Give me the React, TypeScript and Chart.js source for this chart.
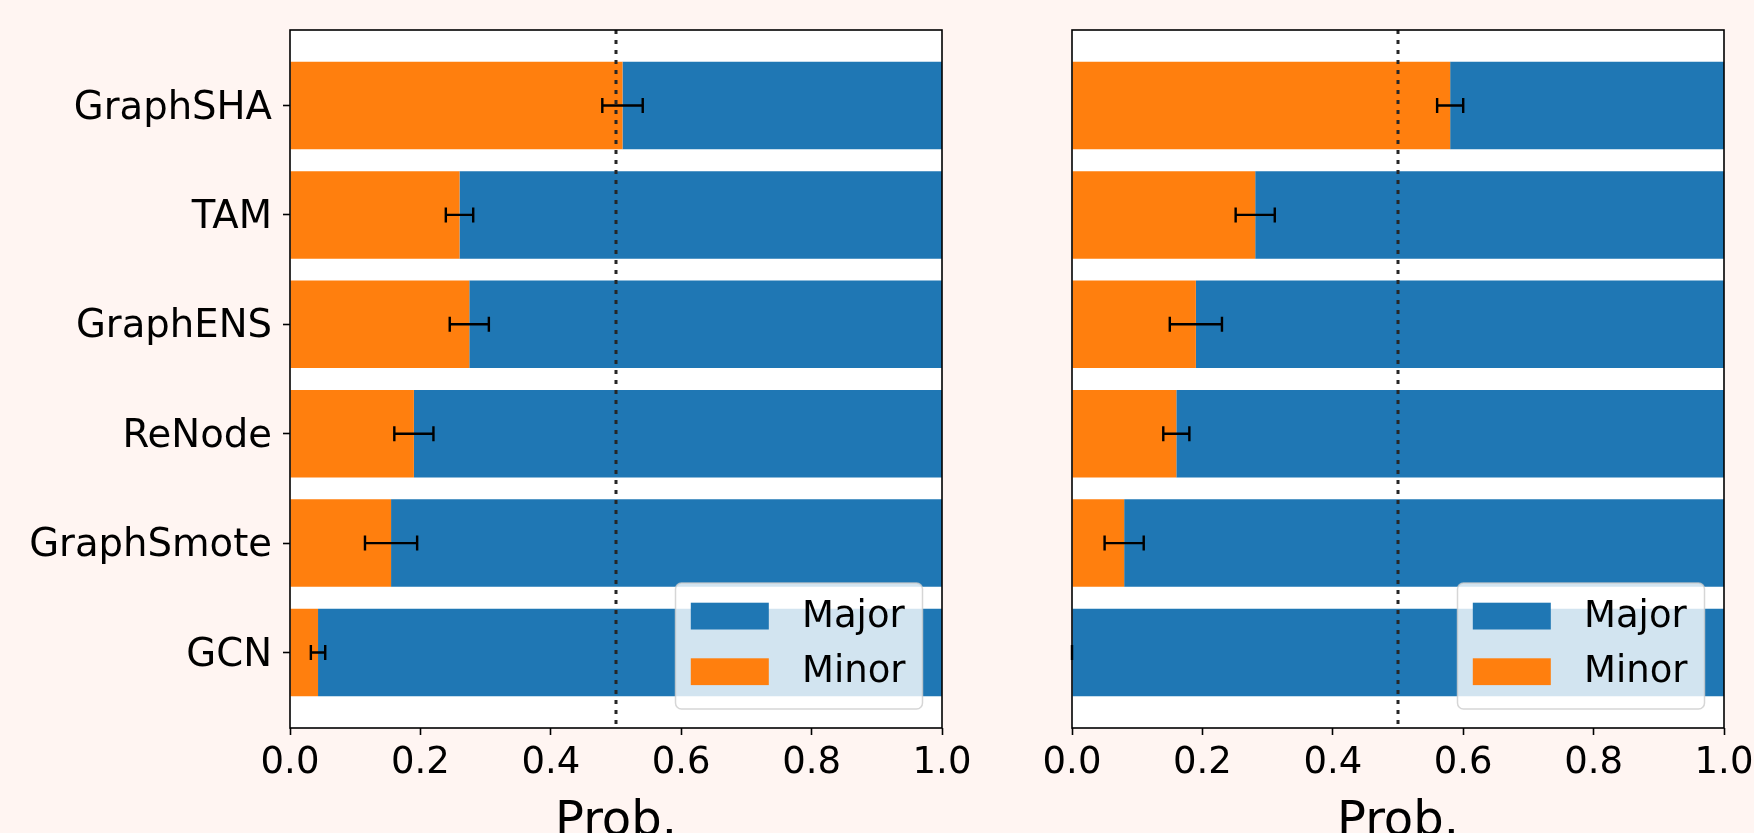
import React, { useEffect, useRef } from 'react';
import { Chart, registerables } from 'chart.js';

Chart.register(...registerables);

// ---- data ----
const methods = ['GraphSHA', 'TAM', 'GraphENS', 'ReNode', 'GraphSmote', 'GCN'];
const minorLeft = [0.51, 0.26, 0.275, 0.19, 0.155, 0.043];
const errLeft = [0.031, 0.021, 0.03, 0.03, 0.04, 0.011];
const minorRight = [0.58, 0.281, 0.19, 0.16, 0.08, 0.0];
const errRight = [0.02, 0.03, 0.04, 0.02, 0.03, 0.0];
const xTickValues = [0, 0.2, 0.4, 0.6, 0.8, 1.0];
const threshold = 0.5;
const seriesLabels = ['Major', 'Minor'];
const axisTitle = 'Prob.';

const BLUE = '#1f77b4';
const ORANGE = '#ff7f0e';
const BG = '#fff5f2';
const FONT = "'DejaVu Sans', sans-serif";

type PanelProps = {
  minor: number[];
  err: number[];
  showLabels: boolean;
  left: number;
  width: number;
  axisWidth: number;
  padRight: number;
};

function Panel({ minor, err, showLabels, left, width, axisWidth, padRight }: PanelProps) {
  const ref = useRef<HTMLCanvasElement | null>(null);

  useEffect(() => {
    const canvas = ref.current;
    if (!canvas) return;

    const overlay = {
      id: 'overlay',
      beforeDatasetsDraw(chart: any) {
        const { ctx, chartArea } = chart;
        ctx.save();
        ctx.fillStyle = '#ffffff';
        ctx.fillRect(chartArea.left, chartArea.top, chartArea.right - chartArea.left, chartArea.bottom - chartArea.top);
        ctx.restore();
      },
      afterDatasetsDraw(chart: any) {
        const { ctx, chartArea } = chart;
        const xs = chart.scales.x;
        const ys = chart.scales.y;
        ctx.save();
        // dotted threshold line
        ctx.beginPath();
        ctx.setLineDash([4, 6]);
        ctx.lineWidth = 3;
        ctx.strokeStyle = '#262626';
        const tx = xs.getPixelForValue(threshold);
        ctx.moveTo(tx, chartArea.top);
        ctx.lineTo(tx, chartArea.bottom);
        ctx.stroke();
        ctx.setLineDash([]);
        // error bars
        ctx.strokeStyle = '#000';
        ctx.lineWidth = 2.4;
        minor.forEach((m, i) => {
          const y = ys.getPixelForValue(i);
          const x1 = xs.getPixelForValue(m - err[i]);
          const x2 = xs.getPixelForValue(m + err[i]);
          ctx.beginPath();
          ctx.moveTo(x1, y);
          ctx.lineTo(x2, y);
          ctx.moveTo(x1, y - 7.5);
          ctx.lineTo(x1, y + 7.5);
          ctx.moveTo(x2, y - 7.5);
          ctx.lineTo(x2, y + 7.5);
          ctx.stroke();
        });
        // spines
        ctx.lineWidth = 1.6;
        ctx.strokeStyle = '#000';
        ctx.strokeRect(chartArea.left, chartArea.top, chartArea.right - chartArea.left, chartArea.bottom - chartArea.top);
        // legend
        const bw = 247;
        const bh = 126;
        const bx = chartArea.right - 19.5 - bw;
        const by = chartArea.bottom - 19 - bh;
        ctx.beginPath();
        (ctx as any).roundRect(bx, by, bw, bh, 6);
        ctx.fillStyle = 'rgba(255,255,255,0.8)';
        ctx.fill();
        ctx.lineWidth = 1.5;
        ctx.strokeStyle = 'rgba(204,204,204,0.8)';
        ctx.stroke();
        const colors = [BLUE, ORANGE];
        ctx.font = `37px ${FONT}`;
        ctx.textBaseline = 'middle';
        ctx.textAlign = 'left';
        seriesLabels.forEach((lab, k) => {
          const py = by + 19.7 + k * 55.6;
          ctx.fillStyle = colors[k];
          ctx.fillRect(bx + 15.3, py, 78, 26.8);
          ctx.fillStyle = '#000';
          ctx.fillText(lab, bx + 126.5, py + 14.5);
        });
        ctx.restore();
      },
    };

    const chart = new Chart(canvas, {
      type: 'bar',
      data: {
        datasets: [
          {
            label: seriesLabels[1],
            data: minor.map((m, i) => ({ y: i, x: m })),
            backgroundColor: ORANGE,
            borderWidth: 0,
          },
          {
            label: seriesLabels[0],
            data: minor.map((m, i) => ({ y: i, x: 1 - m })),
            backgroundColor: BLUE,
            borderWidth: 0,
          },
        ],
      },
      options: {
        indexAxis: 'y',
        animation: false,
        responsive: false,
        devicePixelRatio: 1,
        events: [],
        layout: { padding: { top: 30, right: padRight, bottom: 0, left: 0 } },
        datasets: { bar: { barPercentage: 0.8, categoryPercentage: 1.0 } },
        plugins: { legend: { display: false }, tooltip: { enabled: false } },
        scales: {
          x: {
            type: 'linear',
            stacked: true,
            offset: false,
            min: 0,
            max: 1,
            afterBuildTicks: (s: any) => {
              s.ticks = xTickValues.map((v) => ({ value: v }));
            },
            afterFit: (s: any) => {
              s.height = 132;
              s.paddingLeft = 0;
              s.paddingRight = 0;
              s.paddingTop = 0;
              s.paddingBottom = 0;
            },
            grid: { offset: false, drawOnChartArea: false, drawTicks: true, tickLength: 7, tickColor: '#000', tickWidth: 1.6 },
            border: { display: false },
            ticks: {
              color: '#000',
              padding: 6,
              font: { family: FONT, size: 37 },
              maxRotation: 0,
              autoSkip: false,
              callback: (v: any) => Number(v).toFixed(1),
            },
            title: {
              display: true,
              text: axisTitle,
              color: '#000',
              font: { family: FONT, size: 48, lineHeight: 1.2 },
              padding: { top: 0, bottom: 9 },
            },
          },
          y: {
            type: 'linear',
            stacked: true,
            reverse: true,
            offset: false,
            min: -0.69,
            max: 5.69,
            afterBuildTicks: (s: any) => {
              s.ticks = methods.map((_, i) => ({ value: i }));
            },
            afterFit: (s: any) => {
              s.width = axisWidth;
              s.paddingLeft = 0;
              s.paddingRight = 0;
              s.paddingTop = 0;
              s.paddingBottom = 0;
            },
            grid: { offset: false, drawOnChartArea: false, drawTicks: showLabels, tickLength: 7, tickColor: '#000', tickWidth: 1.6 },
            border: { display: false },
            ticks: {
              display: showLabels,
              color: '#000',
              padding: 11,
              labelOffset: 3,
              font: { family: FONT, size: 38.6 },
              autoSkip: false,
              callback: (v: any) => methods[Math.round(Number(v))] ?? '',
            },
          },
        },
      },
      plugins: [overlay],
    } as any);

    return () => chart.destroy();
  }, [minor, err, showLabels, axisWidth, padRight]);

  return (
    <canvas
      ref={ref}
      width={width}
      height={860}
      style={{ position: 'absolute', left, top: 0, width, height: 860, display: 'block' }}
    />
  );
}

export default function App() {
  return (
    <div
      style={{
        position: 'fixed',
        left: 0,
        top: 0,
        width: 1754,
        height: 833,
        overflow: 'hidden',
        background: BG,
      }}
    >
      <Panel minor={minorLeft} err={errLeft} showLabels={true} left={0} width={980} axisWidth={290} padRight={38} />
      <Panel minor={minorRight} err={errRight} showLabels={false} left={980} width={820} axisWidth={92} padRight={76} />
    </div>
  );
}
